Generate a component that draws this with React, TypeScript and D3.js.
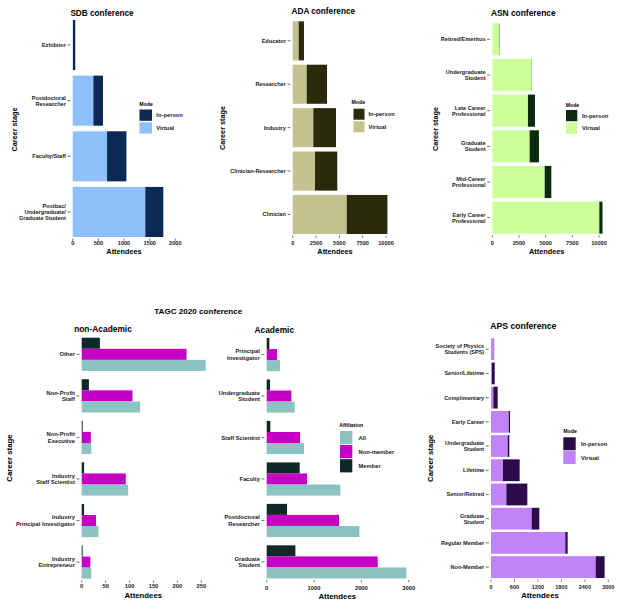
import React from "react";
import * as d3 from "d3";

// ---------- DATA ----------
const sdbStages = ["Exhibitor", "Postdoctoral\nResearcher", "Faculty/Staff", "Postbac/\nUndergraduate/\nGraduate Student"];
const sdbVirtual = [5, 403, 670, 1415];
const sdbInPerson = [45, 187, 377, 351];
const sdbTicks = [0, 500, 1000, 1500, 2000];

const adaStages = ["Educator", "Researcher", "Industry", "Clinician-Researcher", "Clinician"];
const adaVirtual = [640, 1500, 2210, 2390, 5790];
const adaInPerson = [570, 2180, 2430, 2390, 4360];
const adaTicks = [0, 2500, 5000, 7500, 10000];

const asnStages = ["Retired/Emeritus", "Undergraduate\nStudent", "Late Career\nProfessional", "Graduate\nStudent", "Mid-Career\nProfessional", "Early Career\nProfessional"];
const asnVirtual = [640, 3700, 3340, 3500, 4910, 10030];
const asnInPerson = [30, 20, 660, 870, 620, 300];
const asnTicks = [0, 2500, 5000, 7500, 10000];

const nonAcStages = ["Other", "Non-Profit\nStaff", "Non-Profit\nExecutive", "Industry\nStaff Scientist", "Industry\nPrincipal Investigator", "Industry\nEntrepreneur"];
const nonAcMember = [38, 15, 2, 5, 5, 2];
const nonAcNonMember = [219, 106, 19, 92, 30, 18];
const nonAcAll = [259, 122, 20, 97, 35, 20];
const nonAcTicks = [0, 50, 100, 150, 200, 250];

const acStages = ["Principal\nInvestigator", "Undergraduate\nStudent", "Staff Scientist", "Faculty", "Postdoctoral\nResearcher", "Graduate\nStudent"];
const acMember = [56, 70, 77, 697, 430, 606];
const acNonMember = [218, 521, 704, 852, 1528, 2345];
const acAll = [282, 592, 789, 1556, 1958, 2951];
const acTicks = [0, 1000, 2000, 3000];

const apsStages = ["Society of Physics\nStudents (SPS)", "Senior/Lifetime", "Complimentary", "Early Career", "Undergraduate\nStudent", "Lifetime", "Senior/Retired", "Graduate\nStudent", "Regular Member", "Non-Member"];
const apsVirtual = [75, 25, 60, 452, 426, 307, 392, 1040, 1900, 2676];
const apsInPerson = [5, 70, 110, 34, 43, 426, 537, 196, 60, 230];
const apsTicks = [0, 600, 1200, 1800, 2400, 3000];

const modeLabels = ["In-person", "Virtual"];
const affLabels = ["All", "Non-member", "Member"];

const FONT = "'Liberation Sans', Arial, sans-serif";
const TXT = "#1a1a1a";

type Geo = {
  x0: number; x1: number; vMax: number; y0: number; y1: number; pad: number;
  tickY: number; titleX: number; titleY: number; axTitleX: number; axTitleY: number;
  ylabX?: number; ylabY?: number; title?: string; titleSize: number; axSize: number; tickSize: number;
};

function MultiLine({ x, y, text, size, anchor }: { x: number; y: number; text: string; size: number; anchor: string }) {
  const lines = text.split("\n");
  const lh = size * 1.12;
  const start = y - ((lines.length - 1) * lh) / 2;
  return (
    <text x={x} textAnchor={anchor} fontSize={size} fontWeight="bold" fill={TXT} fontFamily={FONT} dominantBaseline="central">
      {lines.map((l, i) => (
        <tspan key={i} x={x} y={start + i * lh}>{l}</tspan>
      ))}
    </text>
  );
}

function Axes({ g, stages, ticks, yScale, xScale }: { g: Geo; stages: string[]; ticks: number[]; yScale: d3.ScaleBand<string>; xScale: d3.ScaleLinear<number, number> }) {
  return (
    <g>
      {stages.map((s) => {
        const cy = (yScale(s) as number) + yScale.bandwidth() / 2;
        return (
          <g key={s}>
            <line x1={g.x0 - 5.2} x2={g.x0 - 2.2} y1={cy} y2={cy} stroke="#333" strokeWidth={0.7} />
            <MultiLine x={g.x0 - 6.8} y={cy} text={s} size={g.tickSize} anchor="end" />
          </g>
        );
      })}
      {ticks.map((t) => (
        <g key={t}>
          <line x1={xScale(t)} x2={xScale(t)} y1={g.y1 + 1.6} y2={g.y1 + 3.8} stroke="#333" strokeWidth={0.7} />
          <text x={xScale(t)} y={g.tickY} textAnchor="middle" fontSize={g.tickSize} fontWeight="bold" fill={TXT} fontFamily={FONT}>{t}</text>
        </g>
      ))}
      <text x={g.axTitleX} y={g.axTitleY} textAnchor="middle" fontSize={g.axSize} fontWeight="bold" fill="#000" fontFamily={FONT}>Attendees</text>
      {g.ylabX !== undefined && (
        <text transform={`translate(${g.ylabX},${g.ylabY}) rotate(-90)`} textAnchor="middle" dominantBaseline="central" fontSize={g.axSize} fontWeight="bold" fill="#000" fontFamily={FONT}>Career stage</text>
      )}
      {g.title && (
        <text x={g.titleX} y={g.titleY} textAnchor="middle" fontSize={g.titleSize} fontWeight="bold" fill="#000" fontFamily={FONT}>{g.title}</text>
      )}
    </g>
  );
}

type Leg = { x: number; y: number; kx: number; kw: number; ky: number[]; kh: number; lx: number; title: string; labels: string[]; colors: string[] };

function Legend({ l }: { l: Leg }) {
  return (
    <g fontFamily={FONT}>
      <text x={l.x} y={l.y} fontSize={5.2} fontWeight="bold" fill="#000">{l.title}</text>
      {l.labels.map((lab, i) => (
        <g key={lab}>
          <rect x={l.kx} y={l.ky[i]} width={l.kw} height={l.kh} fill={l.colors[i]} />
          <text x={l.lx} y={l.ky[i] + l.kh / 2} dominantBaseline="central" fontSize={5.8} fontWeight="bold" fill={TXT}>{lab}</text>
        </g>
      ))}
    </g>
  );
}

function StackPanel({ g, stages, virtual, inPerson, ticks, cV, cI, leg }: { g: Geo; stages: string[]; virtual: number[]; inPerson: number[]; ticks: number[]; cV: string; cI: string; leg: Leg }) {
  const xScale = d3.scaleLinear().domain([0, g.vMax]).range([g.x0, g.x1]);
  const yScale = d3.scaleBand<string>().domain(stages).range([g.y0, g.y1]).paddingInner(g.pad).paddingOuter(0);
  const rows = stages.map((s, i) => ({ stage: s, virtual: virtual[i], inPerson: inPerson[i] }));
  const series = d3.stack<any>().keys(["virtual", "inPerson"])(rows);
  const colors: Record<string, string> = { virtual: cV, inPerson: cI };
  return (
    <g>
      {series.map((ser) => (
        <g key={ser.key} fill={colors[ser.key]}>
          {ser.map((d: any, i: number) => (
            <rect key={i} x={xScale(d[0])} y={yScale(d.data.stage)} width={Math.max(0, xScale(d[1]) - xScale(d[0]))} height={yScale.bandwidth()} />
          ))}
        </g>
      ))}
      <Axes g={g} stages={stages} ticks={ticks} yScale={yScale} xScale={xScale} />
      <Legend l={leg} />
    </g>
  );
}

const cAll = "#8cc3c2";
const cNon = "#c300c3";
const cMem = "#0f2828";

function DodgePanel({ g, stages, member, nonMember, all, ticks }: { g: Geo; stages: string[]; member: number[]; nonMember: number[]; all: number[]; ticks: number[] }) {
  const xScale = d3.scaleLinear().domain([0, g.vMax]).range([g.x0, g.x1]);
  const yScale = d3.scaleBand<string>().domain(stages).range([g.y0, g.y1]).paddingInner(g.pad).paddingOuter(0);
  const sub = d3.scaleBand<string>().domain(["member", "nonMember", "all"]).range([0, yScale.bandwidth()]);
  const cols: Record<string, string> = { member: cMem, nonMember: cNon, all: cAll };
  return (
    <g>
      {stages.map((s, i) => {
        const vals: Record<string, number> = { member: member[i], nonMember: nonMember[i], all: all[i] };
        return (
          <g key={s}>
            {sub.domain().map((k) => (
              <rect key={k} x={xScale(0)} y={(yScale(s) as number) + (sub(k) as number)} width={xScale(vals[k]) - xScale(0)} height={sub.bandwidth()} fill={cols[k]} />
            ))}
          </g>
        );
      })}
      <Axes g={g} stages={stages} ticks={ticks} yScale={yScale} xScale={xScale} />
    </g>
  );
}

export default function App() {
  const sdbG: Geo = { x0: 72.7, x1: 175.3, vMax: 2000, y0: 20, y1: 237, pad: 0.1, tickY: 245, titleX: 102, titleY: 15.5, axTitleX: 124, axTitleY: 254, ylabX: 14.3, ylabY: 129.5, title: "SDB conference", titleSize: 8.2, axSize: 7.3, tickSize: 5.6 };
  const adaG: Geo = { x0: 292.7, x1: 386, vMax: 10000, y0: 21.3, y1: 234, pad: 0.1, tickY: 245, titleX: 323.3, titleY: 14, axTitleX: 335, axTitleY: 253.5, ylabX: 222.7, ylabY: 128, title: "ADA conference", titleSize: 8.2, axSize: 7.3, tickSize: 5.6 };
  const asnG: Geo = { x0: 492.3, x1: 599, vMax: 10000, y0: 23.3, y1: 233.7, pad: 0.1, tickY: 244.5, titleX: 523.3, titleY: 16, axTitleX: 546.7, axTitleY: 253.5, ylabX: 435, ylabY: 129, title: "ASN conference", titleSize: 8.4, axSize: 7.3, tickSize: 5.6 };
  const nonAcG: Geo = { x0: 81.7, x1: 201.4, vMax: 250, y0: 337.7, y1: 578.7, pad: 0.2, tickY: 587.5, titleX: 103, titleY: 332.3, axTitleX: 143.3, axTitleY: 598, ylabX: 9, ylabY: 458, title: "non-Academic", titleSize: 8.4, axSize: 7.8, tickSize: 5.8 };
  const acG: Geo = { x0: 266.7, x1: 408.7, vMax: 3000, y0: 338, y1: 578.5, pad: 0.2, tickY: 589.5, titleX: 274.3, titleY: 333, axTitleX: 337.3, axTitleY: 599, title: "Academic", titleSize: 8.4, axSize: 7.8, tickSize: 5.8 };
  const apsG: Geo = { x0: 491, x1: 608.3, vMax: 3000, y0: 338.3, y1: 578, pad: 0.1, tickY: 588.5, titleX: 523.3, titleY: 329, axTitleX: 540, axTitleY: 598, ylabX: 430, ylabY: 458.3, title: "APS conference", titleSize: 8.6, axSize: 7.8, tickSize: 5.5 };

  const sdbLeg: Leg = { x: 139.3, y: 106, kx: 139.5, kw: 12.5, ky: [109.5, 122.3], kh: 11.3, lx: 156.3, title: "Mode", labels: modeLabels, colors: ["#0b2955", "#8fc0fc"] };
  const adaLeg: Leg = { x: 351.5, y: 104, kx: 353.5, kw: 11, ky: [108.7, 121.3], kh: 11, lx: 368.5, title: "Mode", labels: modeLabels, colors: ["#2a290b", "#c4c28e"] };
  const asnLeg: Leg = { x: 565.7, y: 106.5, kx: 566, kw: 11.3, ky: [110, 122.7], kh: 11.2, lx: 582, title: "Mode", labels: modeLabels, colors: ["#0c2a0c", "#ccff99"] };
  const apsLeg: Leg = { x: 563.3, y: 432.5, kx: 563.3, kw: 12.4, ky: [437.3, 451], kh: 13, lx: 581, title: "Mode", labels: modeLabels, colors: ["#2c0b4c", "#c183f8"] };
  const tagcLeg: Leg = { x: 339.3, y: 426.5, kx: 340, kw: 12.3, ky: [431, 445, 459.2], kh: 13.2, lx: 358.5, title: "Affiliation", labels: affLabels, colors: [cAll, cNon, cMem] };

  return (
    <svg width={617} height={602} style={{ position: "absolute", left: 0, top: 0, background: "#fff" }}>
      <rect width={617} height={602} fill="#fff" />
      <StackPanel g={sdbG} stages={sdbStages} virtual={sdbVirtual} inPerson={sdbInPerson} ticks={sdbTicks} cV="#8fc0fc" cI="#0b2955" leg={sdbLeg} />
      <StackPanel g={adaG} stages={adaStages} virtual={adaVirtual} inPerson={adaInPerson} ticks={adaTicks} cV="#c4c28e" cI="#2a290b" leg={adaLeg} />
      <StackPanel g={asnG} stages={asnStages} virtual={asnVirtual} inPerson={asnInPerson} ticks={asnTicks} cV="#ccff99" cI="#0c2a0c" leg={asnLeg} />
      <text x={198.3} y={313.5} textAnchor="middle" fontSize={8.1} fontWeight="bold" fill="#000" fontFamily={FONT}>TAGC 2020 conference</text>
      <DodgePanel g={nonAcG} stages={nonAcStages} member={nonAcMember} nonMember={nonAcNonMember} all={nonAcAll} ticks={nonAcTicks} />
      <DodgePanel g={acG} stages={acStages} member={acMember} nonMember={acNonMember} all={acAll} ticks={acTicks} />
      <Legend l={tagcLeg} />
      <StackPanel g={apsG} stages={apsStages} virtual={apsVirtual} inPerson={apsInPerson} ticks={apsTicks} cV="#c183f8" cI="#2c0b4c" leg={apsLeg} />
    </svg>
  );
}
